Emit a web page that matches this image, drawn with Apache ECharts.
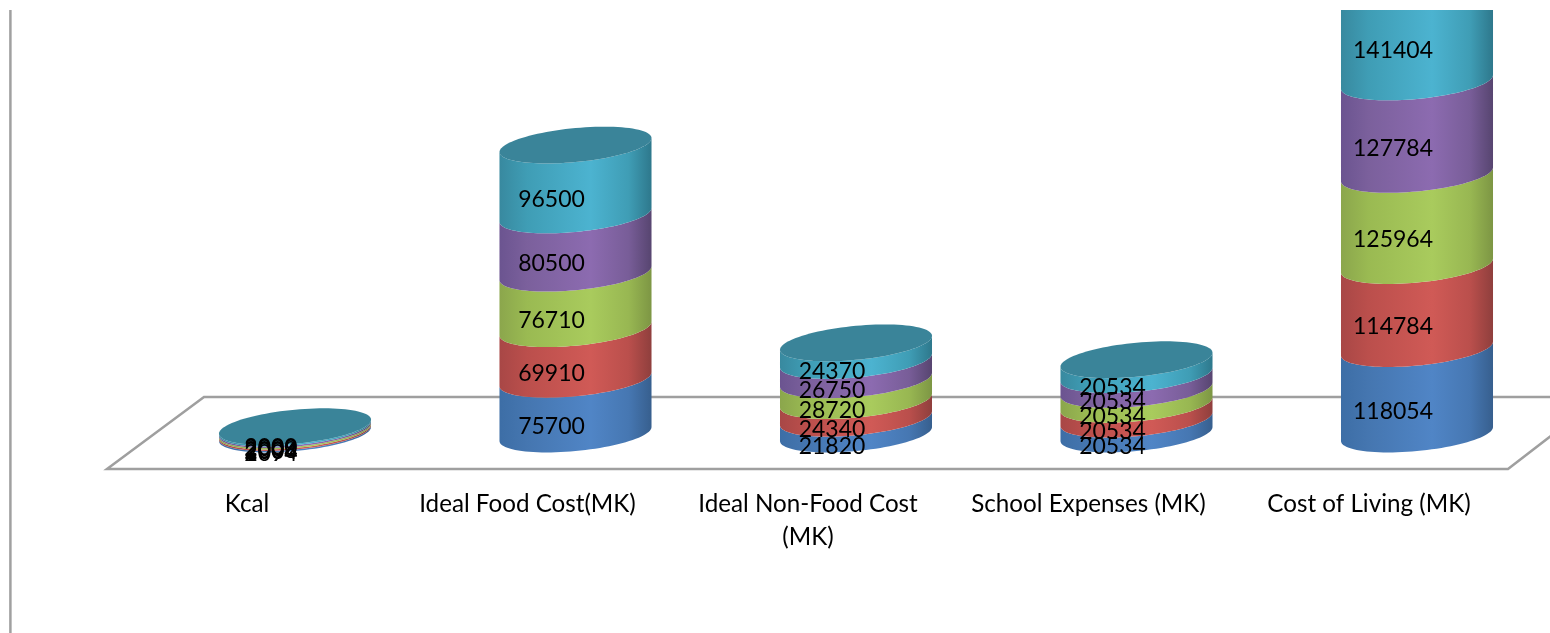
<!DOCTYPE html>
<html><head><meta charset="utf-8">
<style>html,body{margin:0;padding:0;background:#fff}#c{width:1550px;height:633px}</style>
<script src="https://cdn.jsdelivr.net/npm/echarts@6/dist/echarts.min.js"></script>
</head><body><div id="c"></div>
<script>
const categories = ['Kcal','Ideal Food Cost(MK)','Ideal Non-Food Cost\n(MK)','School Expenses (MK)','Cost of Living (MK)'];
const year1 = [2094, 75700, 21820, 20534, 118054];
const year2 = [2004, 69910, 24340, 20534, 114784];
const year3 = [2008, 76710, 28720, 20534, 125964];
const year4 = [2009, 80500, 26750, 20534, 127784];
const year5 = [2000, 96500, 24370, 20534, 141404];
const seriesValues = [year1, year2, year3, year4, year5];
const seriesNames = ['Year 1','Year 2','Year 3','Year 4','Year 5'];

const shades = [
  ['#3d6ea6','#4576b0','#5085c6','#4677b2','#375f8e'],
  ['#a84746','#bb4f4c','#d05a56','#ba4f4c','#8f3f3d'],
  ['#8ba64c','#9aba52','#a9cb5d','#98b752','#7d9644'],
  ['#6b5490','#7b609c','#8c6bb0','#785d98','#574570'],
  ['#38899f','#3f9db5','#4cb3d0','#3f9db5','#2e788c']
];
const TOP_COLOR = '#3a8499';
const WIDTH_RATIO = 0.542, RY_RATIO = 0.224, SHEAR_RATIO = 0.092;

function grad(c){
  return new echarts.graphic.LinearGradient(0,0,1,0,[
    {offset:0,color:c[0]},{offset:0.18,color:c[1]},{offset:0.6,color:c[2]},
    {offset:0.85,color:c[3]},{offset:1,color:c[4]}]);
}
function pt(cx,cy,rx,t){
  const ry=rx*RY_RATIO, sh=rx*SHEAR_RATIO;
  return [cx+rx*Math.cos(t), cy+ry*Math.sin(t)-sh*Math.cos(t)];
}
function renderSeg(s){
  return function(params,api){
    const idx=api.value(0), start=api.value(1), end=api.value(2), val=api.value(3);
    const a=api.coord([idx,start]), b=api.coord([idx,end]);
    const rx=api.size([1,0])[0]*WIDTH_RATIO/2, cx=a[0];
    const N=48, pts=[];
    for(let i=0;i<=N;i++) pts.push(pt(cx,a[1],rx,Math.PI*i/N));
    for(let i=N;i>=0;i--) pts.push(pt(cx,b[1],rx,Math.PI*i/N));
    const kids=[{type:'polygon',shape:{points:pts},style:{fill:grad(shades[s])},z2:s+1}];
    if(s===seriesValues.length-1){
      const e=[]; for(let i=0;i<96;i++) e.push(pt(cx,b[1],rx,2*Math.PI*i/96));
      kids.push({type:'polygon',shape:{points:e},style:{fill:TOP_COLOR},z2:10});
    }
    kids.push({type:'text',z2:100,style:{text:String(val),x:cx-rx*0.316,y:(a[1]+b[1])/2+20,
      fill:'#000',fontFamily:'Lato',fontSize:23,align:'center',verticalAlign:'middle'}});
    return {type:'group',children:kids};
  };
}
const totals=categories.map(()=>0);
const series=seriesValues.map((vals,s)=>{
  const data=vals.map((v,i)=>{const st=totals[i];totals[i]+=v;return [i,st,totals[i],v];});
  return {type:'custom',name:seriesNames[s],renderItem:renderSeg(s),data,clip:true,animation:false,
    encode:{x:0,y:[1,2]},silent:true};
});

const chart=echarts.init(document.getElementById('c'),null,{renderer:'canvas'});
chart.setOption({
  animation:false,backgroundColor:'#fff',
  grid:{left:154.75,top:10,width:1402.5,height:623,outerBoundsMode:'none',containLabel:false},
  xAxis:{type:'category',data:categories,offset:-199,
    axisLine:{show:false,onZero:false},axisTick:{show:false},
    axisLabel:{interval:0,margin:53.5,color:'#000',fontFamily:'Lato',fontSize:24.2,lineHeight:33,padding:[0,96,0,0]}},
  yAxis:{type:'value',min:-275000,max:586000,show:false,splitLine:{show:false}},
  graphic:[
    {type:'polyline',z:0,shape:{points:[[1560,397],[204,397],[107,469],[1508,469],[1560,429]]},
      style:{fill:null,stroke:'#9f9f9f',lineWidth:2.5}},
    {type:'line',z:0,shape:{x1:10.4,y1:10,x2:10.4,y2:633},style:{stroke:'#a0a0a0',lineWidth:2.5}}
  ],
  series
});
</script></body></html>
